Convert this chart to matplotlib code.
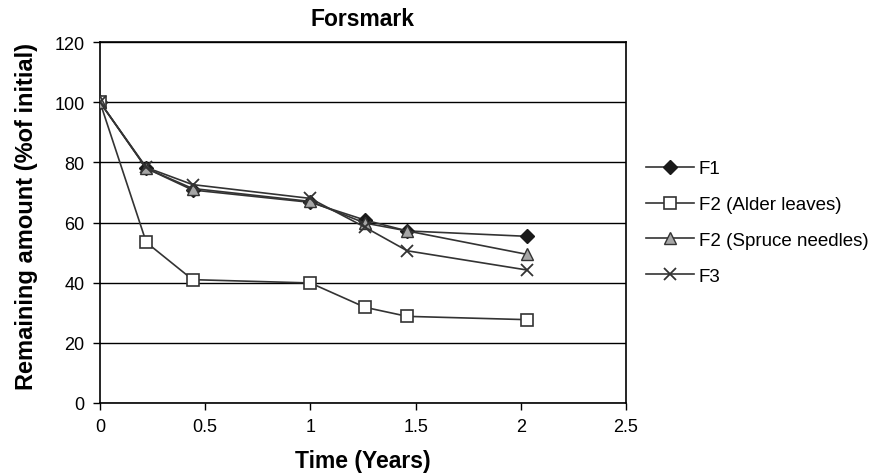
import matplotlib
matplotlib.use("Agg")
import matplotlib.pyplot as plt

plt.rcParams['font.family'] = ['Liberation Sans', 'DejaVu Sans']

# Decomposition data: remaining amount (% of initial) vs. time (years)
time_f1 = [0, 0.22, 0.44, 1.0, 1.26, 1.46, 2.03]
f1 = [100, 78, 70.8, 66.7, 60.8, 57.2, 55.4]

time_f2_alder = [0, 0.22, 0.44, 1.0, 1.26, 1.46, 2.03]
f2_alder = [100, 53.4, 41.0, 39.9, 31.8, 28.8, 27.7]

time_f2_spruce = [0, 0.22, 0.44, 1.0, 1.26, 1.46, 2.03]
f2_spruce = [100, 78, 71.3, 67.0, 59.8, 57.2, 49.4]

time_f3 = [0, 0.22, 0.44, 1.0, 1.26, 1.46, 2.03]
f3 = [100, 78.3, 72.6, 68.0, 58.4, 50.6, 44.2]

labels = ["F1", "F2 (Alder leaves)", "F2 (Spruce needles)", "F3"]
x_ticks = [0, 0.5, 1, 1.5, 2, 2.5]
x_tick_labels = ["0", "0.5", "1", "1.5", "2", "2.5"]
y_ticks = [0, 20, 40, 60, 80, 100, 120]

line_col = "#333333"

fig = plt.figure(figsize=(8.7, 4.77), dpi=100)
ax = fig.add_axes([100 / 870, 1 - 404 / 477, 526 / 870, 361 / 477])

ax.plot(time_f1, f1, color=line_col, lw=1.2, marker="D", ms=7,
        mfc="#1a1a1a", mec="#1a1a1a", label=labels[0], zorder=3)
ax.plot(time_f2_alder, f2_alder, color=line_col, lw=1.2, marker="s", ms=8,
        mfc="white", mec=line_col, mew=1.2, label=labels[1], zorder=3)
ax.plot(time_f2_spruce, f2_spruce, color=line_col, lw=1.2, marker="^", ms=9,
        mfc="#a6a6a6", mec=line_col, mew=1.0, label=labels[2], zorder=3)
ax.plot(time_f3, f3, color=line_col, lw=1.2, marker="x", ms=9,
        mec=line_col, mew=1.3, label=labels[3], zorder=3)

ax.set_xlim(0, 2.5)
ax.set_ylim(0, 120)
ax.set_xticks(x_ticks)
ax.set_xticklabels(x_tick_labels)
ax.set_yticks(y_ticks)
ax.yaxis.grid(True, color="black", lw=1.0)
ax.set_axisbelow(True)

for side in ["left", "bottom", "right", "top"]:
    ax.spines[side].set_color("black")
    ax.spines[side].set_linewidth(1.2)

ax.tick_params(axis="both", direction="out", length=5, width=1,
               labelsize=13, colors="black", pad=6)

ax.set_xlabel("Time (Years)", fontsize=16.5, fontweight="bold", labelpad=10)
ax.set_ylabel("Remaining amount (%of initial)", fontsize=17,
              fontweight="bold")
ax.yaxis.set_label_coords(-0.118, 0.52)
ax.set_title("Forsmark", fontsize=16.5, fontweight="bold", pad=12)

leg = ax.legend(loc="center left", bbox_to_anchor=(1.005, 0.5), frameon=False,
                fontsize=13.5, handlelength=2.6, handletextpad=0.25,
                labelspacing=1.0)

fig.savefig("out.png", dpi=100)
